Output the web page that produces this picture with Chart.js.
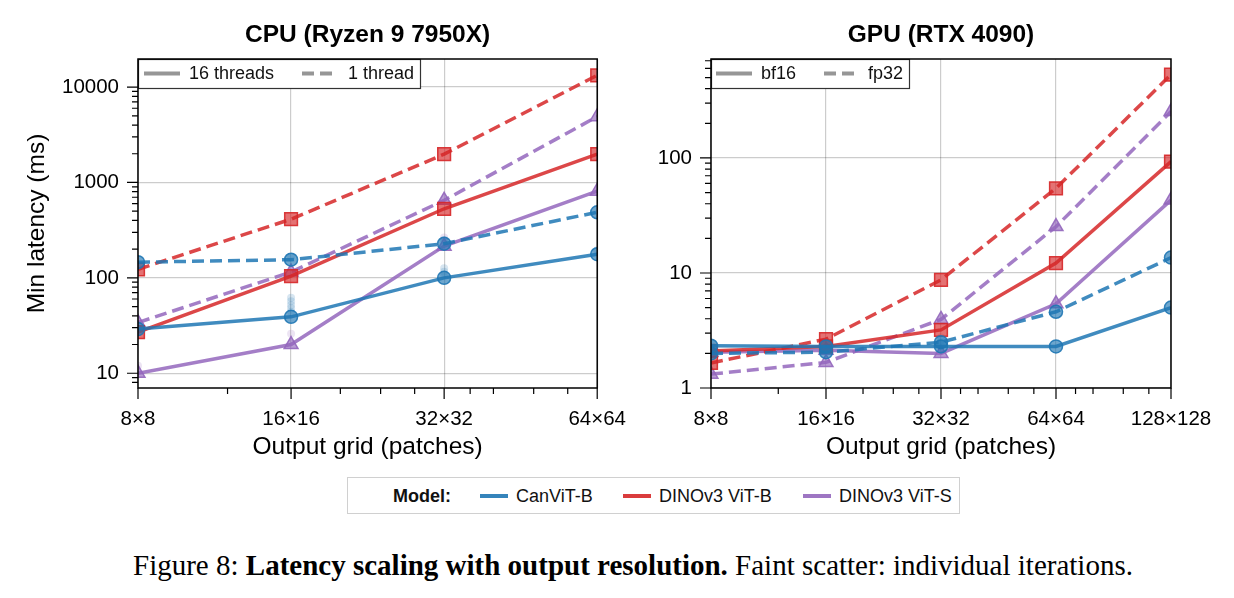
<!DOCTYPE html>
<html>
<head>
<meta charset="utf-8">
<script src="https://cdn.jsdelivr.net/npm/chart.js@4.4.1/dist/chart.umd.min.js"></script>
<style>
  body { margin: 0; background: #fff; width: 1234px; height: 598px; position: relative; overflow: hidden;
         font-family: "Liberation Sans", Arial, sans-serif; }
  #cpu { position: absolute; left: 0; top: 0; }
  #gpu { position: absolute; left: 645px; top: 0; }
  .legend { position: absolute; left: 347px; top: 477px; width: 611px; height: 35px; border: 1px solid #d0d0d0;
            font-size: 18px; color: #111; }
  .legend span { position: absolute; top: 8px; white-space: nowrap; }
  .legend i { position: absolute; top: 16px; width: 28px; height: 4px; }
  .caption { position: absolute; left: 0; width: 1266px; top: 549px; text-align: center; white-space: nowrap;
             font-family: "Liberation Serif", "Times New Roman", serif; font-size: 29px; color: #000; }
</style>
</head>
<body>
<canvas id="cpu" width="645" height="470"></canvas>
<canvas id="gpu" width="589" height="470"></canvas>

<div class="legend">
  <span style="left:45px; font-weight:bold;">Model:</span>
  <i style="left:132px; background:rgba(31,119,180,0.9);"></i><span style="left:168px;">CanViT-B</span>
  <i style="left:275px; background:rgba(214,39,40,0.9);"></i><span style="left:311px;">DINOv3 ViT-B</span>
  <i style="left:455px; background:rgba(148,103,189,0.9);"></i><span style="left:491px;">DINOv3 ViT-S</span>
</div>
<div class="caption">Figure 8: <b>Latency scaling with output resolution.</b> Faint scatter: individual iterations.</div>

<script>
// ---- data ----
var cpuGrid = [8, 16, 32, 64];
var gpuGrid = [8, 16, 32, 64, 128];

// CPU, 16 threads (solid) / 1 thread (dashed), ms
var cpuCanvit16 = [29, 39, 100, 177];
var cpuCanvit1  = [146, 155, 228, 487];
var cpuDinoB16  = [27, 104, 530, 1980];
var cpuDinoB1   = [123, 412, 1980, 13300];
var cpuDinoS16  = [10, 20, 215, 811];
var cpuDinoS1   = [34, 115, 650, 4900];

// GPU, bf16 (solid) / fp32 (dashed), ms
var gpuCanvitBf16 = [2.33, 2.3, 2.3, 2.3, 5.0];
var gpuCanvitFp32 = [2.0, 2.05, 2.5, 4.6, 13.6];
var gpuDinoBBf16  = [2.1, 2.3, 3.2, 12.2, 93];
var gpuDinoBFp32  = [1.65, 2.66, 8.7, 54.5, 530];
var gpuDinoSBf16  = [2.05, 2.13, 2.0, 5.4, 43];
var gpuDinoSFp32  = [1.32, 1.67, 3.95, 25.3, 253];

// faint scatter: individual iterations [grid, ms]
var cpuCanvitIters = [[16, 44], [16, 48], [16, 52], [16, 57], [16, 62], [16, 165], [32, 108], [32, 116], [32, 126], [32, 250], [64, 195]];
var cpuDinoSIters  = [[16, 26], [32, 245], [32, 265], [8, 12]];
var gpuCanvitIters = [[8, 2.45], [32, 2.6], [32, 2.75]];

// ticks
var cpuYTicks = [10, 100, 1000, 10000];
var gpuYTicks = [1, 10, 100];
var cpuXTicks = [8, 16, 32, 64];
var gpuXTicks = [8, 16, 32, 64, 128];
var xMinorTicks = [12, 20, 24, 28, 36, 40, 48, 56, 72, 80, 96, 112];
var yMinorMult = [2, 3, 4, 5, 6, 7, 8, 9];

var blue = '31,119,180', red = '214,39,40', purple = '148,103,189';

function lineSet(grid, vals, rgb, shape, dashed) {
	var r = shape == 'circle' ? 6.5 : (shape == 'rect' ? 9 : 8);
	return {
		data: grid.map(function (g, i) { return {x: g, y: vals[i]}; }),
		borderColor: 'rgba(' + rgb + ',0.85)',
		borderWidth: 3.5,
		borderDash: dashed ? [12, 6] : [],
		pointStyle: shape,
		pointRadius: r,
		pointBackgroundColor: 'rgba(' + rgb + ',0.65)',
		pointBorderColor: 'rgba(' + rgb + ',0.9)',
		pointBorderWidth: 1.5,
		tension: 0,
		order: 1
	};
}

function iterSet(pts, rgb) {
	return {
		data: pts.map(function (p) { return {x: p[0], y: p[1]}; }),
		showLine: false,
		pointRadius: 4,
		pointBackgroundColor: 'rgba(' + rgb + ',0.18)',
		pointBorderWidth: 0,
		order: 5
	};
}

// frame, ticks (major + minor) and the inset legend
var framePlugin = {
	id: 'frame',
	afterDraw: function (chart, args, opts) {
		var ctx = chart.ctx, a = chart.chartArea, sx = chart.scales.x, sy = chart.scales.y;
		ctx.save();

		// inset legend
		ctx.fillStyle = '#fff';
		ctx.fillRect(a.left, a.top, opts.boxW, 29);
		ctx.strokeStyle = '#333';
		ctx.lineWidth = 1.2;
		ctx.strokeRect(a.left + 0.5, a.top + 0.5, opts.boxW, 29);
		ctx.font = '18px "Liberation Sans", Arial, sans-serif';
		ctx.textBaseline = 'middle';
		opts.items.forEach(function (it) {
			ctx.strokeStyle = 'rgb(150,150,150)';
			ctx.lineWidth = 4;
			ctx.setLineDash(it.dash ? [12, 6] : []);
			ctx.beginPath();
			ctx.moveTo(a.left + it.x0, a.top + 14.5);
			ctx.lineTo(a.left + it.x0 + 36, a.top + 14.5);
			ctx.stroke();
			ctx.setLineDash([]);
			ctx.fillStyle = '#111';
			ctx.fillText(it.label, a.left + it.tx, a.top + 15);
		});

		// frame
		ctx.strokeStyle = '#000';
		ctx.lineWidth = 1.5;
		ctx.strokeRect(a.left, a.top, a.right - a.left, a.bottom - a.top);

		// ticks
		ctx.lineWidth = 1.2;
		ctx.beginPath();
		sx.ticks.forEach(function (t) {
			var p = sx.getPixelForValue(t.value);
			ctx.moveTo(p, a.bottom); ctx.lineTo(p, a.bottom + 11);
		});
		xMinorTicks.forEach(function (v) {
			if (v <= sx.min || v >= sx.max) return;
			var p = sx.getPixelForValue(v);
			ctx.moveTo(p, a.bottom); ctx.lineTo(p, a.bottom + 6);
		});
		sy.ticks.forEach(function (t) {
			var p = sy.getPixelForValue(t.value);
			ctx.moveTo(a.left, p); ctx.lineTo(a.left - 11, p);
		});
		for (var d = 0.1; d <= sy.max; d *= 10) {
			yMinorMult.forEach(function (m) {
				var v = m * d;
				if (v <= sy.min || v >= sy.max) return;
				var p = sy.getPixelForValue(v);
				ctx.moveTo(a.left, p); ctx.lineTo(a.left - 6, p);
			});
		}
		ctx.stroke();
		ctx.restore();
	}
};

Chart.defaults.font.family = '"Liberation Sans", Arial, sans-serif';
Chart.defaults.color = '#000';

function makeChart(id, o) {
	return new Chart(document.getElementById(id), {
		type: 'line',
		data: {datasets: o.datasets},
		options: {
			responsive: false,
			animation: false,
			layout: {padding: {left: 0, right: o.padRight, top: 0, bottom: 0}},
			plugins: {
				legend: {display: false},
				tooltip: {enabled: false},
				title: {
					display: true, text: o.title, fullSize: false,
					font: {size: 24.5, weight: 'bold'},
					padding: {top: 21, bottom: 8.6}
				},
				frame: {boxW: o.boxW, items: o.items}
			},
			scales: {
				x: {
					type: 'logarithmic', min: 8, max: o.xMax, bounds: 'data',
					afterBuildTicks: function (s) { s.ticks = o.xTicks.map(function (v) { return {value: v}; }); },
					afterFit: function (s) { s.height = 82; },
					grid: {color: 'rgba(0,0,0,0.2)', lineWidth: 1.2, drawTicks: false},
					border: {display: false},
					ticks: {autoSkip: false, maxRotation: 0, padding: 19, font: {size: 20.5},
						callback: function (v) { return v + '×' + v; }},
					title: {display: true, text: 'Output grid (patches)', font: {size: 24.5}, padding: {top: 0, bottom: 8.3}}
				},
				y: {
					type: 'logarithmic', min: o.yMin, max: o.yMax, bounds: 'data',
					afterBuildTicks: function (s) { s.ticks = o.yTicks.map(function (v) { return {value: v}; }); },
					afterFit: function (s) { s.width = o.yWidth; },
					grid: {color: 'rgba(0,0,0,0.2)', lineWidth: 1.2, drawTicks: false},
					border: {display: false},
					ticks: {autoSkip: false, padding: 19, font: {size: 20.5},
						callback: function (v) { return String(v); }},
					title: {display: o.yTitle != '', text: o.yTitle, font: {size: 24.5}, padding: {top: 23, bottom: 0}}
				}
			}
		},
		plugins: [framePlugin]
	});
}

makeChart('cpu', {
	title: 'CPU (Ryzen 9 7950X)',
	yTitle: 'Min latency (ms)',
	yMin: 7, yMax: 19700, yTicks: cpuYTicks,
	xMax: 64, xTicks: cpuXTicks,
	yWidth: 138, padRight: 47,
	boxW: 282,
	items: [{label: '16 threads', x0: 6, tx: 51}, {label: '1 thread', x0: 164, tx: 210, dash: true}],
	datasets: [
		iterSet(cpuCanvitIters, blue),
		iterSet(cpuDinoSIters, purple),
		lineSet(cpuGrid, cpuCanvit16, blue, 'circle', false),
		lineSet(cpuGrid, cpuCanvit1, blue, 'circle', true),
		lineSet(cpuGrid, cpuDinoB16, red, 'rect', false),
		lineSet(cpuGrid, cpuDinoB1, red, 'rect', true),
		lineSet(cpuGrid, cpuDinoS16, purple, 'triangle', false),
		lineSet(cpuGrid, cpuDinoS1, purple, 'triangle', true)
	]
});

makeChart('gpu', {
	title: 'GPU (RTX 4090)',
	yTitle: '',
	yMin: 1, yMax: 725, yTicks: gpuYTicks,
	xMax: 128, xTicks: gpuXTicks,
	yWidth: 66, padRight: 63,
	boxW: 198,
	items: [{label: 'bf16', x0: 5, tx: 50}, {label: 'fp32', x0: 113, tx: 157, dash: true}],
	datasets: [
		iterSet(gpuCanvitIters, blue),
		lineSet(gpuGrid, gpuCanvitBf16, blue, 'circle', false),
		lineSet(gpuGrid, gpuCanvitFp32, blue, 'circle', true),
		lineSet(gpuGrid, gpuDinoBBf16, red, 'rect', false),
		lineSet(gpuGrid, gpuDinoBFp32, red, 'rect', true),
		lineSet(gpuGrid, gpuDinoSBf16, purple, 'triangle', false),
		lineSet(gpuGrid, gpuDinoSFp32, purple, 'triangle', true)
	]
});
</script>
</body>
</html>
